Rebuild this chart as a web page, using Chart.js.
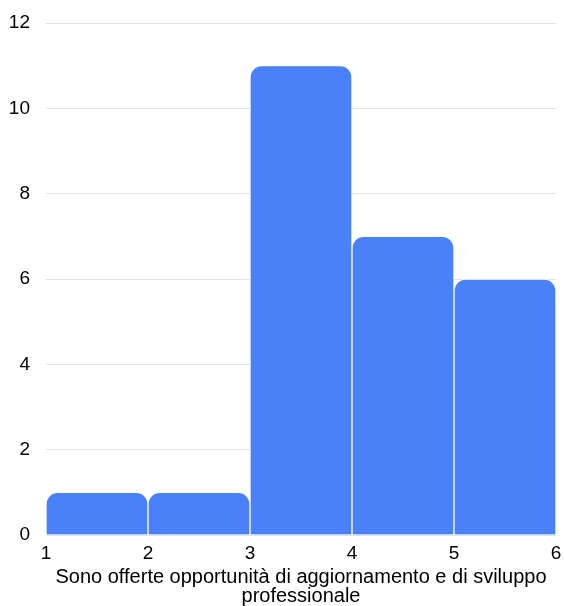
<!DOCTYPE html>
<html>
<head>
<meta charset="utf-8">
<script src="https://cdn.jsdelivr.net/npm/chart.js@4/dist/chart.umd.min.js"></script>
<style>
    html, body { margin: 0; padding: 0; background: #ffffff; }
    #wrap { width: 564px; height: 606px; }
</style>
</head>
<body>
<div id="wrap"><canvas id="histogram" width="564" height="606"></canvas></div>
<script>
// Histogram bins and counts
const binEdges = [1, 2, 3, 4, 5, 6];
const counts = [1, 1, 11, 7, 6];
const yTicks = [0, 2, 4, 6, 8, 10, 12];
const axisTitle = ['Sono offerte opportunità di aggiornamento e di sviluppo', 'professionale'];

document.addEventListener('DOMContentLoaded', function() {
    const ctx = document.getElementById('histogram');
    const points = counts.map(function(c, i) {
        return { x: (binEdges[i] + binEdges[i + 1]) / 2, y: c };
    });
    const family = '"Liberation Sans", Arial, Helvetica, sans-serif';

    new Chart(ctx, {
        type: 'bar',
        data: {
            datasets: [{
                data: points,
                backgroundColor: '#4a80f8',
                borderColor: '#ffffff',
                borderWidth: 1,
                borderRadius: { topLeft: 12, topRight: 12 },
                borderSkipped: 'bottom',
                barPercentage: 1,
                categoryPercentage: 1
            }]
        },
        options: {
            responsive: false,
            animation: false,
            layout: { padding: { top: 23, right: 8, left: 0, bottom: 0 } },
            plugins: {
                legend: { display: false },
                tooltip: { enabled: false }
            },
            scales: {
                x: {
                    type: 'linear',
                    offset: false,
                    min: binEdges[0],
                    max: binEdges[binEdges.length - 1],
                    grid: { display: false, drawTicks: false },
                    border: { display: false },
                    afterFit: function(axis) {
                        axis.height = 71;
                        axis.paddingLeft = 0;
                        axis.paddingRight = 0;
                    },
                    ticks: {
                        stepSize: 1,
                        color: '#000000',
                        font: { family: family, size: 19 },
                        padding: 7,
                        maxRotation: 0
                    },
                    title: {
                        display: true,
                        text: axisTitle,
                        color: '#000000',
                        font: { family: family, size: 20, lineHeight: 0.95 },
                        padding: { top: 0, bottom: 0 }
                    }
                },
                y: {
                    min: yTicks[0],
                    max: yTicks[yTicks.length - 1],
                    grid: { color: '#e3e3e3', drawTicks: false },
                    border: { display: false },
                    afterFit: function(axis) {
                        axis.width = 46;
                        axis.paddingTop = 0;
                        axis.paddingBottom = 0;
                    },
                    afterBuildTicks: function(axis) {
                        axis.ticks = yTicks.map(function(v) { return { value: v }; });
                    },
                    ticks: {
                        color: '#000000',
                        font: { family: family, size: 19 },
                        padding: 16
                    }
                }
            }
        }
    });
});
</script>
</body>
</html>
